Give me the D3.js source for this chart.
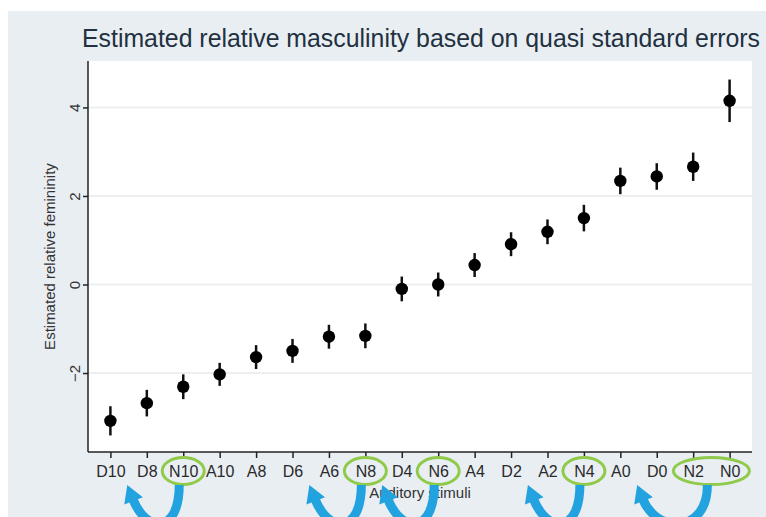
<!DOCTYPE html>
<html>
<head>
<meta charset="utf-8">
<script src="https://cdn.jsdelivr.net/npm/d3@7"></script>
<style>
  body { margin: 0; background: #fff; }
  svg { display: block; }
</style>
</head>
<body>
<svg id="chart" width="766" height="517"></svg>
<script>
// Auditory stimuli, ordered from most masculine to most feminine estimate
const stimuli = ["D10","D8","N10","A10","A8","D6","A6","N8","D4","N6","A4","D2","A2","N4","A0","D0","N2","N0"];
// Estimated relative femininity for each stimulus
const estimates = [-3.08,-2.68,-2.31,-2.03,-1.64,-1.50,-1.18,-1.16,-0.10,0.00,0.44,0.91,1.19,1.50,2.34,2.44,2.66,4.15];
// Half-width of the quasi-standard-error interval
const ciHalfWidth = [0.33,0.30,0.28,0.26,0.27,0.27,0.27,0.28,0.28,0.27,0.27,0.27,0.28,0.30,0.30,0.30,0.32,0.48];
const yTicks = [-2, 0, 2, 4];
// Natural-voice stimuli highlighted below the axis
const circledGroups = [["N10"], ["N8"], ["N6"], ["N4"], ["N2", "N0"]];
// Each highlighted group points back to the stimulus it moved past
const shiftTargets = ["D8", "A6", "D4", "A2", "D0"];

const svg = d3.select("#chart");
const W = 766, H = 517;
const plot = { left: 88, right: 752, top: 61, bottom: 452 };
const font = "Liberation Sans, Arial, sans-serif";

// Panel background
svg.append("rect").attr("x", 8).attr("y", 11).attr("width", W - 8).attr("height", H - 11)
  .attr("fill", "#e9eef3");
svg.append("rect").attr("x", plot.left).attr("y", plot.top)
  .attr("width", plot.right - plot.left).attr("height", plot.bottom - plot.top)
  .attr("fill", "#ffffff");

const x = d3.scalePoint().domain(stimuli).range([plot.left, plot.right]).padding(0.615);
const y = d3.scaleLinear().domain([-3.784, 5.049]).range([plot.bottom, plot.top]);

// Horizontal grid
svg.append("g").selectAll("line").data(yTicks).join("line")
  .attr("x1", plot.left).attr("x2", plot.right)
  .attr("y1", d => y(d)).attr("y2", d => y(d))
  .attr("stroke", "#eceff1").attr("stroke-width", 2);

// Title
svg.append("text").attr("x", 82).attr("y", 47)
  .attr("font-family", "Liberation Sans Narrow, Arial Narrow, Liberation Sans, sans-serif").attr("font-size", 25)
  .attr("fill", "#22313f")
  .attr("textLength", 678).attr("lengthAdjust", "spacingAndGlyphs")
  .text("Estimated relative masculinity based on quasi standard errors");

// Y axis
const yAxis = svg.append("g").attr("transform", `translate(${plot.left},0)`)
  .call(d3.axisLeft(y).tickValues(yTicks).tickSize(5).tickFormat(d => d < 0 ? "\u2212" + Math.abs(d) : d));
yAxis.select(".domain").attr("d", `M0,${plot.top}V${plot.bottom}`).attr("stroke", "#222").attr("stroke-width", 1.5);
yAxis.selectAll(".tick line").attr("stroke", "#222").attr("stroke-width", 1.5);
yAxis.selectAll(".tick text")
  .attr("font-family", font).attr("font-size", 15).attr("fill", "#333")
  .attr("transform", "rotate(-90)").attr("x", 0).attr("y", -8).attr("dy", 0)
  .attr("text-anchor", "middle");

// X axis
const xAxis = svg.append("g").attr("transform", `translate(0,${plot.bottom})`)
  .call(d3.axisBottom(x).tickSize(6));
xAxis.select(".domain").attr("d", `M${plot.left},0H${plot.right}`).attr("stroke", "#222").attr("stroke-width", 1.5);
xAxis.selectAll(".tick line").attr("stroke", "#222").attr("stroke-width", 1.5);
xAxis.selectAll(".tick text")
  .attr("font-family", font).attr("font-size", 16).attr("fill", "#2a2a2a")
  .attr("y", 25).attr("dy", 0);

// Axis titles
svg.append("text")
  .attr("transform", `translate(55,${(plot.top + plot.bottom) / 2}) rotate(-90)`)
  .attr("text-anchor", "middle")
  .attr("font-family", font).attr("font-size", 15).attr("fill", "#333")
  .text("Estimated relative femininity");
svg.append("text")
  .attr("x", (plot.left + plot.right) / 2).attr("y", 498)
  .attr("text-anchor", "middle")
  .attr("font-family", font).attr("font-size", 15).attr("fill", "#333")
  .text("Auditory stimuli");

// Estimates with intervals
const pts = stimuli.map((s, i) => ({ s, v: estimates[i], h: ciHalfWidth[i] }));
const marks = svg.append("g");
marks.selectAll("line").data(pts).join("line")
  .attr("x1", d => x(d.s)).attr("x2", d => x(d.s))
  .attr("y1", d => y(d.v - d.h)).attr("y2", d => y(d.v + d.h))
  .attr("stroke", "#111").attr("stroke-width", 2.5);
marks.selectAll("circle").data(pts).join("circle")
  .attr("cx", d => x(d.s)).attr("cy", d => y(d.v)).attr("r", 6.2)
  .attr("fill", "#000");

// Highlight rings around natural-voice labels
const groupCenter = g => d3.mean(g, s => x(s));
svg.append("g").selectAll("ellipse").data(circledGroups).join("ellipse")
  .attr("cx", g => groupCenter(g))
  .attr("cy", 471)
  .attr("rx", g => g.length > 1 ? 38 : 21)
  .attr("ry", 13.5)
  .attr("fill", "none").attr("stroke", "#8fca4a").attr("stroke-width", 3);

// Curved arrows back to the shifted position
const arrows = svg.append("g");
circledGroups.forEach((g, i) => {
  const xt = groupCenter(g) - 4;
  const xh = x(shiftTargets[i]) - 22;
  const c1 = [xt, 534], c2 = [xh + 22, 534], e = [xh + 8, 499];
  arrows.append("path")
    .attr("d", `M${xt},485 C${c1[0]},${c1[1]} ${c2[0]},${c2[1]} ${e[0]},${e[1]}`)
    .attr("fill", "none").attr("stroke", "#22a3df").attr("stroke-width", 9);
  const dx = e[0] - c2[0], dy = e[1] - c2[1], len = Math.hypot(dx, dy);
  const ux = dx / len, uy = dy / len, px = -uy, py = ux;
  const tip = [e[0] + ux * 15, e[1] + uy * 15];
  const b1 = [e[0] - ux * 2 + px * 10, e[1] - uy * 2 + py * 10];
  const b2 = [e[0] - ux * 2 - px * 10, e[1] - uy * 2 - py * 10];
  arrows.append("path")
    .attr("d", `M${tip[0]},${tip[1]} L${b1[0]},${b1[1]} L${b2[0]},${b2[1]} Z`)
    .attr("fill", "#22a3df");
});
</script>
</body>
</html>
